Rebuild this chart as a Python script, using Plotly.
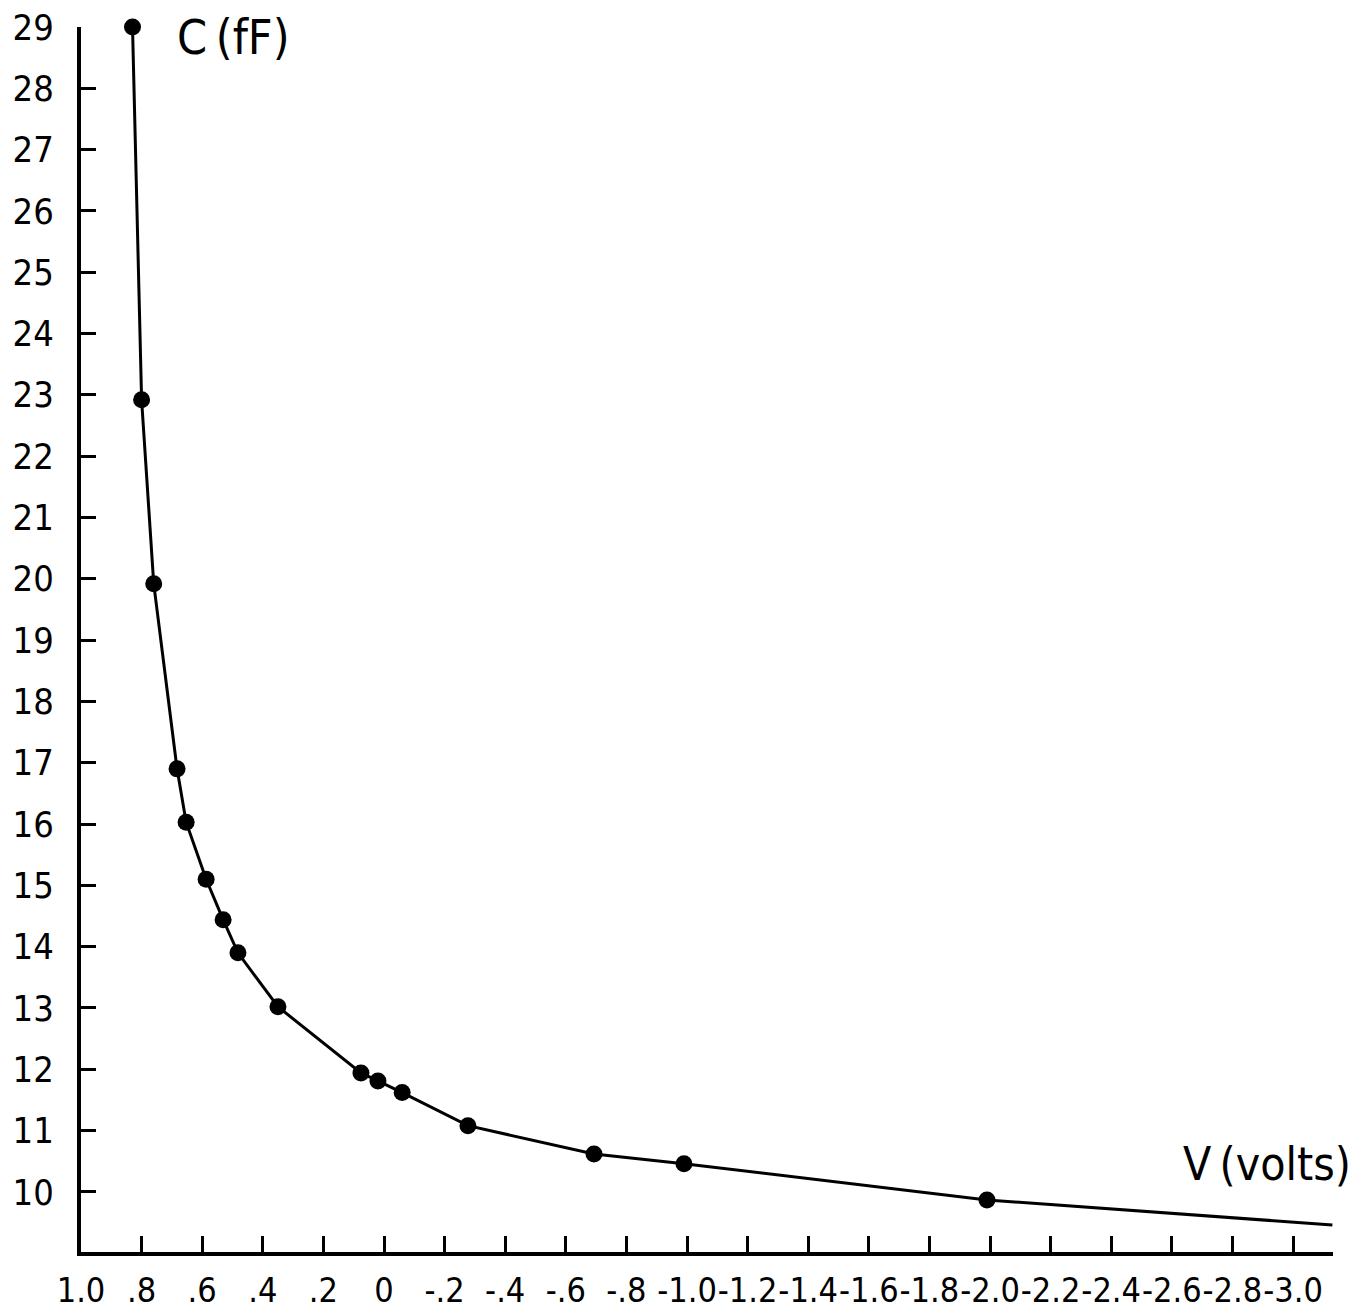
import plotly.graph_objects as go

# Measured capacitance vs. bias voltage
v_measured = [0.83, 0.80, 0.76, 0.683, 0.653, 0.587, 0.531, 0.482, 0.35,
              0.076, 0.02, -0.06, -0.277, -0.693, -0.99, -1.99]
c_measured = [29.0, 22.92, 19.92, 16.9, 16.03, 15.1, 14.44, 13.9, 13.02,
              11.94, 11.81, 11.62, 11.08, 10.62, 10.46, 9.87]

# Extension of the drawn curve beyond the last measurement
v_tail = [-3.13]
c_tail = [9.46]

x_tick_vals = [1.0, 0.8, 0.6, 0.4, 0.2, 0.0, -0.2, -0.4, -0.6, -0.8, -1.0,
               -1.2, -1.4, -1.6, -1.8, -2.0, -2.2, -2.4, -2.6, -2.8, -3.0]
x_tick_text = ["1.0", ".8", ".6", ".4", ".2", "0", "-.2", "-.4", "-.6", "-.8",
               "-1.0", "-1.2", "-1.4", "-1.6", "-1.8", "-2.0", "-2.2", "-2.4",
               "-2.6", "-2.8", "-3.0"]
y_tick_vals = list(range(10, 30))

FONT = "DejaVu Sans Condensed, Liberation Sans Narrow, DejaVu Sans"

fig = go.Figure()
fig.add_trace(go.Scatter(
    x=v_measured + v_tail, y=c_measured + c_tail,
    mode="lines", line=dict(color="black", width=3),
    cliponaxis=False, hoverinfo="skip", showlegend=False,
))
fig.add_trace(go.Scatter(
    x=v_measured, y=c_measured,
    mode="markers", marker=dict(color="black", size=17),
    cliponaxis=False, showlegend=False,
))

fig.update_layout(
    width=1358, height=1310,
    margin=dict(l=81, r=25, t=27, b=58),
    paper_bgcolor="white", plot_bgcolor="white",
    font=dict(family=FONT, color="black"),
    xaxis=dict(
        range=[1.0, -3.132], showgrid=False, zeroline=False, automargin=False,
        showline=True, linecolor="black", linewidth=4,
        tickmode="array", tickvals=x_tick_vals, ticktext=x_tick_text,
        ticks="inside", ticklen=16, tickwidth=3, tickcolor="black",
        tickangle=0, tickfont=dict(size=34, family=FONT),
        ticklabelstandoff=5,
    ),
    yaxis=dict(
        range=[9.02, 29.0], showgrid=False, zeroline=False, automargin=False,
        showline=True, linecolor="black", linewidth=4,
        tickmode="array", tickvals=y_tick_vals,
        ticks="inside", ticklen=15, tickwidth=3, tickcolor="black",
        tickfont=dict(size=36, family=FONT), ticklabelstandoff=16,
    ),
    annotations=[
        dict(x=0.69, y=29.0, xref="x", yref="y", text="C\u2009(fF)",
             showarrow=False, xanchor="left", yanchor="middle", yshift=-10,
             font=dict(size=48, family=FONT)),
        dict(x=1.0, y=10.45, xref="paper", yref="y", text="V\u2009(volts)",
             showarrow=False, xanchor="right", yanchor="middle", xshift=20,
             font=dict(size=46, family=FONT)),
    ],
)

fig.write_html("out.html")
